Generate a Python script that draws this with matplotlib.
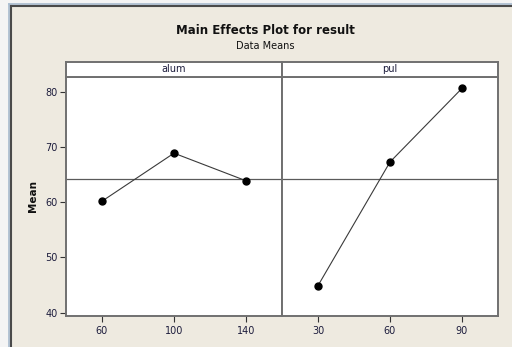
import matplotlib
matplotlib.use('Agg')
import matplotlib.pyplot as plt
from matplotlib.patches import Rectangle
from matplotlib.lines import Line2D

# дані
alum_levels = ['60', '100', '140']
alum_means = [60.2, 68.9, 63.9]
pul_levels = ['30', '60', '90']
pul_means = [44.9, 67.3, 80.65]
grand_mean = 64.3
y_ticks = [40, 50, 60, 70, 80]

W, H = 512, 347
BG = '#eeeae0'
SPINE = '#707070'
TXT = '#1c1c3c'

plt.rcParams['font.family'] = ['DejaVu Sans']

fig = plt.figure(figsize=(W / 100, H / 100), dpi=100, facecolor=BG)


def box(x0, y0, x1, y1):
    # піксельні координати -> частки фігури
    return [x0 / W, (H - y1) / H, (x1 - x0) / W, (y1 - y0) / H]


# рамка вікна
fig.patches.append(Rectangle((0, 0), 8 / W, 1, transform=fig.transFigure,
                             facecolor='#f4f4f4', edgecolor='none', zorder=0))
fig.patches.append(Rectangle((0, 1 - 3 / H), 1, 3 / H, transform=fig.transFigure,
                             facecolor='#f4f4f4', edgecolor='none', zorder=0))
fig.lines.append(Line2D([8.5 / W, 8.5 / W], [0, 1 - 3.5 / H], transform=fig.transFigure,
                        color='#a9bdd2', lw=1.2))
fig.lines.append(Line2D([8.5 / W, 1], [1 - 3.5 / H, 1 - 3.5 / H], transform=fig.transFigure,
                        color='#a9bdd2', lw=1.2))
fig.lines.append(Line2D([10.5 / W, 10.5 / W], [0, 1 - 5.5 / H], transform=fig.transFigure,
                        color='#4a4a4a', lw=1.5))
fig.lines.append(Line2D([10.5 / W, 1], [1 - 5.5 / H, 1 - 5.5 / H], transform=fig.transFigure,
                        color='#4a4a4a', lw=1.5))

fig.text(265 / W, 1 - 31 / H, 'Main Effects Plot for result', ha='center', va='center',
         fontsize=8.5, fontweight='bold', color='#111111')
fig.text(265 / W, 1 - 46 / H, 'Data Means', ha='center', va='center',
         fontsize=7, color='#111111')

panels = [('alum', alum_levels, alum_means, 66, 282),
          ('pul', pul_levels, pul_means, 282, 498)]

for i, (name, levels, means, x0, x1) in enumerate(panels):
    ax = fig.add_axes(box(x0, 77, x1, 316))
    ax.set_facecolor('white')
    xs = list(range(1, len(levels) + 1))
    ax.plot(xs, means, color='#3a3a3a', lw=0.8, marker='o', ms=5,
            mfc='black', mec='black', zorder=3)
    ax.axhline(grand_mean, color='#5a5a5a', lw=0.9, zorder=2)
    ax.set_xlim(0.5, 3.5)
    ax.set_ylim(39.4, 82.7)
    ax.set_xticks(xs)
    ax.set_xticklabels(levels)
    for s in ax.spines.values():
        s.set_color(SPINE)
        s.set_linewidth(1.4)
    ax.tick_params(axis='x', direction='out', length=4, width=0.8, color='#333333',
                   labelsize=7, labelcolor=TXT, pad=3)
    if i == 0:
        ax.set_yticks(y_ticks)
        ax.tick_params(axis='y', direction='out', length=4, width=0.8, color='#333333',
                       labelsize=7, labelcolor=TXT, pad=2)
        ax.set_ylabel('Mean', fontsize=7.5, fontweight='bold', color='#111111', labelpad=5)
    else:
        ax.set_yticks([])

    # заголовок панелі
    st = fig.add_axes(box(x0, 62, x1, 77))
    st.set_facecolor('white')
    st.set_xticks([])
    st.set_yticks([])
    for s in st.spines.values():
        s.set_color(SPINE)
        s.set_linewidth(1.4)
    st.text(0.5, 0.5, name, ha='center', va='center', fontsize=7, color=TXT,
            transform=st.transAxes)

fig.savefig('out.png', dpi=100, facecolor=BG)
